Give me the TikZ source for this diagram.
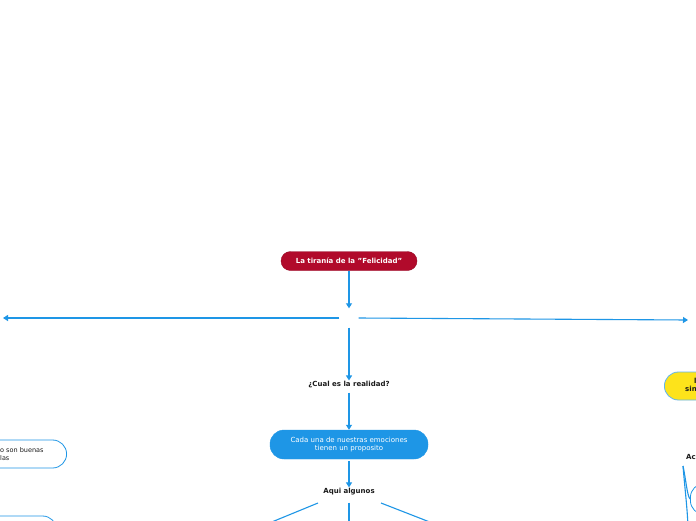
\documentclass[tikz,border=0pt]{standalone}
\usepackage{fontspec}
\setmainfont{DejaVu Sans}
\usetikzlibrary{arrows.meta,positioning}
\definecolor{mapblue}{HTML}{1E96E6}
\definecolor{mapred}{HTML}{B10A2B}
\definecolor{mapyellow}{HTML}{FDE31B}
\definecolor{maptext}{HTML}{1A1A1A}

\tikzset{
    link/.style = {mapblue, line width=1.1pt},
    arrowlink/.style = {link, -{Triangle[length=5pt, width=6pt]}},
    plain/.style = {text=maptext, font=\bfseries\fontsize{7}{8.5}\selectfont, inner sep=1pt},
    bodytext/.style = {text=maptext, font=\fontsize{6.5}{8.5}\selectfont, inner sep=0pt},
    redbox/.style = {rounded corners=9.5pt, fill=mapred, draw=mapred!85!black,
        text=white, font=\bfseries\fontsize{7}{8.5}\selectfont,
        minimum width=136, minimum height=19},
    bluebox/.style = {rounded corners=14pt, fill=mapblue, draw=mapblue,
        text=white, font=\fontsize{7}{8.6}\selectfont, align=center,
        minimum width=158, minimum height=29},
    outlinebox/.style = {rounded corners=14pt, fill=white, draw=mapblue,
        line width=0.8pt, minimum height=28},
    yellowbox/.style = {rounded corners=14pt, fill=mapyellow, draw=mapblue!70,
        line width=0.8pt, minimum height=28}
}

\begin{document}
\begin{tikzpicture}[x=1pt, y=-1pt]
    \clip (0,0) rectangle (696,520);
    \fill[white] (0,0) rectangle (696,520);

    % main branch
    \node[redbox] (title) at (349,261) {La tiranía de la "Felicidad"};
    \node[minimum width=19, minimum height=19, inner sep=0pt] (root) at (349,318) {};
    \coordinate (farleft) at (3,318);
    \coordinate (farright) at (688,320);
    \node[plain] (realidad) at (349,385) {¿Cual es la realidad?};
    \node[bluebox] (proposito) at (349,444.5) {Cada una de nuestras emociones\\tienen un proposito};
    \node[plain] (algunos) at (349,492) {Aqui algunos};

    \draw[arrowlink] (title.south) -- (root.north);
    \draw[arrowlink] (root.west) -- (farleft);
    \draw[arrowlink] (root.east) -- (farright);
    \draw[arrowlink] (root.south) -- (realidad.north);
    \draw[arrowlink] (realidad.south) ++(0,3) -- (proposito.north);
    \draw[arrowlink] (proposito.south) ++(0,2) -- (algunos.north);

    \coordinate (downleft) at (262,526);
    \coordinate (downmid) at (349,526);
    \coordinate (downright) at (440,526);
    \draw[link] (318,503) -- (downleft);
    \draw[link] (algunos.south) ++(0,6) -- (downmid);
    \draw[link] (381,503) -- (downright);

    % left side
    \node[outlinebox, minimum width=120, anchor=east] (emoA) at (67,454) {};
    \node[bodytext, anchor=west, align=left] at (0,454) {o son buenas\\las};
    \node[outlinebox, minimum width=120, anchor=east] (emoB) at (57,530) {};

    % right side
    \node[yellowbox, minimum width=90, anchor=west] (sin) at (664,386) {};
    \node[plain, anchor=west, align=left] at (684,385) {\hspace{9pt}l\\sin};
    \node[plain, anchor=west] (ac) at (685,457) {Ac};
    \node[outlinebox, minimum width=60, minimum height=31, anchor=west] (emoC) at (690,499) {};
    \coordinate (acfoot) at (683,466);
    \coordinate (acdown) at (688,526);
    \draw[link] (acfoot) .. controls (685,490) and (687,505) .. (acdown);
    \draw[link] (acfoot) .. controls (686,480) and (687,495) .. (emoC.west);
\end{tikzpicture}
\end{document}
